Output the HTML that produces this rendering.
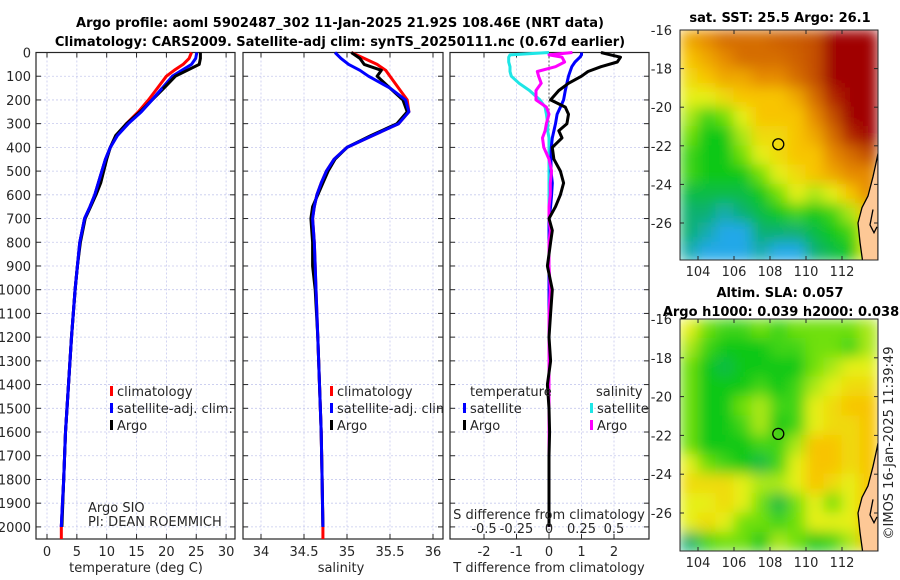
<!DOCTYPE html>
<html><head><meta charset="utf-8"><style>
body{margin:0;background:#fff}
svg{display:block;font-family:"DejaVu Sans","Liberation Sans",sans-serif}
.t{fill:#262626;font-size:13px}
.b{font-weight:bold;fill:#000}
</style></head><body>
<svg id="s" width="900" height="580" viewBox="0 0 900 580">
<defs>
<filter id="bl" x="-5%" y="-5%" width="110%" height="110%"><feGaussianBlur stdDeviation="7" edgeMode="duplicate"/></filter>
<clipPath id="c1"><rect x="680" y="30" width="198" height="230"/></clipPath>
<clipPath id="c2"><rect x="680" y="319" width="198" height="232"/></clipPath>
<clipPath id="cp2"><rect x="243" y="52" width="200" height="488"/></clipPath>
</defs>
<text x="340" y="27" text-anchor="middle" class="b" font-size="13">Argo profile: aoml 5902487_302 11-Jan-2025 21.92S 108.46E (NRT data)</text>
<text x="340" y="46" text-anchor="middle" class="b" font-size="13">Climatology: CARS2009. Satellite-adj clim: synTS_20250111.nc (0.67d earlier)</text>
<g id="g"></g>
</svg>
<script>
const depths=[0,25,50,75,100,150,200,250,300,350,400,450,500,550,600,650,700,800,900,1000,1200,1400,1600,1800,2000];
const climT=[24.2,23.8,22.8,21.3,20,18.5,17,15.3,13.3,11.7,10.6,9.8,9.2,8.6,8.0,7.2,6.3,5.5,5.1,4.7,4.1,3.6,3.1,2.8,2.4];
const satT=[25.1,24.9,24.2,22.6,21,19.3,17.6,15.8,13.6,11.8,10.6,9.8,9.2,8.6,8.0,7.2,6.3,5.5,5.1,4.7,4.1,3.6,3.1,2.8,2.4];
const argoT=[25.7,25.7,25.5,23.5,21.5,19.6,17.6,15.6,13.3,11.5,10.6,10,9.5,9,8.2,7.3,6.4,5.6,5.1,4.7,4.1,3.6,3.1,2.8,2.5];
const climS=[35.05,35.2,35.35,35.45,35.5,35.6,35.7,35.72,35.6,35.3,35.0,34.85,34.76,34.7,34.65,34.62,34.6,34.62,34.63,34.64,34.66,34.68,34.7,34.71,34.72];
const satS=[34.86,34.93,35.02,35.15,35.25,35.5,35.68,35.72,35.6,35.3,35.0,34.85,34.76,34.7,34.65,34.62,34.6,34.62,34.63,34.64,34.66,34.68,34.7,34.71,34.72];
const argoS=[35.05,35.15,35.2,35.4,35.35,35.5,35.65,35.7,35.58,35.28,35.0,34.86,34.78,34.72,34.66,34.6,34.58,34.6,34.6,34.63,34.66,34.68,34.7,34.71,34.72];
const dDepth=[0,10,20,40,60,80,100,130,160,200,230,260,300,330,360,400,450,500,550,600,650,700,750,800,900,1000,1100,1200,1300,1400,1500,1600,1700,1800,1900,2000];
const dArgoT=[1.6,1.9,2.2,2.1,1.6,1.2,1.0,0.6,0.3,0.05,0.5,0.6,0.55,0.3,0.4,0.1,0.15,0.35,0.45,0.35,0.2,0.0,0.1,0.05,-0.05,0.1,0.05,0.0,0.05,-0.05,0.0,0.02,0.0,0.0,0.0,0.0];
const dSatT=[1.0,1.0,0.95,0.8,0.7,0.65,0.6,0.55,0.5,0.45,0.35,0.25,0.2,0.15,0.1,0.07,0.06,0.06,0.1,0.08,0.05,0,0,0,0,0,0,0,0,0,0,0,0,0,0,0];
const dSatS=[0,-0.3,-0.31,-0.31,-0.3,-0.3,-0.29,-0.23,-0.15,-0.07,-0.03,-0.02,-0.01,-0.01,0,0,0,0,0,0,0,0,0,0,0,0,0,0,0,0,0,0,0,0,0,0];
const dArgoS=[0.18,0.0,0.1,0.12,0.05,-0.09,-0.08,-0.06,-0.1,-0.1,-0.02,0,-0.02,-0.03,-0.05,-0.04,0.0,0.02,0.01,0.01,0,0.0,0.01,0,0,0.01,0,0,0,0,0,0,0,0,0,0];
const depthTicks=[0,100,200,300,400,500,600,700,800,900,1000,1100,1200,1300,1400,1500,1600,1700,1800,1900,2000];
const tTicks=[0,5,10,15,20,25,30];
const sTicks=[34,34.5,35,35.5,36];
const dtTicks=[-2,-1,0,1,2];
const dsTicks=[-0.5,-0.25,0,0.25,0.5];
const lonTicks=[104,106,108,110,112];
const latTicks=[-16,-18,-20,-22,-24,-26];
const sstGrid=[
[7.5,8,8.5,8.5,8.5,8.7,8.8,9,10,10,10],
[7,7.5,8,8.5,8.5,8.5,8.7,9,10,10,10],
[6.5,7,7.5,7.5,8,8,8.5,9,10,10,10],
[6,6,6.5,7,7,7,7.5,8.5,9.5,10,10],
[5.5,4.5,5,6,7,7,7,8,9,10,10],
[5,4,4,5.5,6.5,6.5,7,7.5,8.5,9.5,10],
[4.5,4,4,5,6,6.5,7,7,8,8.5,9],
[4.5,4,4,4,5,6,6.5,7,7.5,8,8],
[3.5,3.5,3.5,3.5,4,5,6,5.5,6,7,8],
[3,3,2.5,3,3.5,4,4.5,4,4.5,5.5,7],
[3,2.5,2,2,3,3,3,3.5,4,4.5,6],
[2.5,2,2,2,2.5,2,2,3,3.5,4,6]];
const slaGrid=[
[6,5,4.5,4.5,5,4.5,5,5,5,5,5.5],
[5.5,4.5,4,4,4,4.5,4.5,5,5,4.5,5.5],
[5,4,3.5,4,4,4,4,5,5.5,6,6],
[5,4,4,4,4.5,4,4.5,5.5,6,6.5,6.5],
[5,4,4,5,5.5,4.5,4.5,6,6.5,7,7],
[5,4,4,4.5,5.5,4,4.5,6,6.5,6.5,7],
[5,4,4,4,4.5,4.5,5.5,7,7,6.5,7],
[6,5,4.5,4,3.5,4.5,6,7,7,6.5,7],
[6.5,6.5,6.5,6,5.5,5.5,6,7,6.5,6,7],
[6,6,6.5,6,5,3.5,5,6,5,6,7],
[6,6.5,6,5,5,4.5,5,6,6,6,7],
[3,4.5,5,5,4,5.5,5,4,4.5,5.5,7]];

const NS='http://www.w3.org/2000/svg';
const G=document.getElementById('g');
function mk(tag,at,par){const e=document.createElementNS(NS,tag);for(const k in at)e.setAttribute(k,at[k]);(par||G).appendChild(e);return e;}
function txt(x,y,s,cls,anchor,par){const e=mk('text',{x:x,y:y,'class':cls||'t','text-anchor':anchor||'middle'},par);e.textContent=s;return e;}
const yD=d=>52.5+d*0.2372;
const Y0=52.5,Y1=539;
const xT=t=>47+t*5.97, xS=s=>261+(s-34)*86, xDT=t=>549+t*32.5, xDS=s=>549+s*130;

function panel(name,x0,x1,xt,ticks,fmt,showY){
  const g=mk('g',{});
  
  
  depthTicks.forEach(d=>{const y=yD(d);mk('line',{x1:x0,x2:x1,y1:y,y2:y,stroke:'#c6c9ee','stroke-width':0.8,'stroke-dasharray':'2,2'},g);
    mk('line',{x1:x0,x2:x0+5,y1:y,y2:y,stroke:'#262626'},g);mk('line',{x1:x1-5,x2:x1,y1:y,y2:y,stroke:'#262626'},g);
    if(showY){const t=txt(x0-5,y+5,String(d),'t','end',g);}});
  ticks.forEach(v=>{const x=xt(v);mk('line',{x1:x,x2:x,y1:Y0,y2:Y1,stroke:'#c6c9ee','stroke-width':0.8,'stroke-dasharray':'2,2'},g);
    mk('line',{x1:x,x2:x,y1:Y1-5,y2:Y1,stroke:'#262626'},g);mk('line',{x1:x,x2:x,y1:Y0,y2:Y0+5,stroke:'#262626'},g);
    if(fmt){const t=txt(x,556,fmt(v),'t','middle',g);}});
  mk('rect',{x:x0,y:Y0,width:x1-x0,height:Y1-Y0,fill:'none',stroke:'#262626','stroke-width':1.2},g);
  return g;
}
function line(name,xs,ds,xf,col,w){const pts=xs.map((v,i)=>xf(v).toFixed(1)+','+yD(ds[i]).toFixed(1)).join(' ');
  const p=mk('polyline',{points:pts,fill:'none',stroke:col,'stroke-width':w||3,'stroke-linejoin':'round'});
  return p;}
function leg(x,y,col,label,name,par){const g=mk('g',{},par);
  mk('rect',{x:x,y:y-10,width:3,height:10,fill:col},g);txt(x+7,y,label,'t','start',g);}

panel('temperature-axes',36,235,xT,tTicks,v=>String(v),true);
line('temperature-climatology',climT,depths,xT,'#f00');
mk('line',{x1:xT(2.4),x2:xT(2.4),y1:yD(2000),y2:Y1,stroke:'#f00','stroke-width':3});
line('temperature-satellite-adj',satT,depths,xT,'#00f');
line('temperature-argo',argoT,depths,xT,'#000');
line('temperature-satellite-adj-deep',satT.slice(5),depths.slice(5),xT,'#00f');
leg(110,396,'#f00','climatology','legend-climatology');
leg(110,413,'#00f','satellite-adj. clim.','legend-satellite-adj');
leg(110,430,'#000','Argo','legend-argo');
txt(88,512,'Argo SIO','t','start').setAttribute('font-size','11');
txt(88,526,'PI: DEAN ROEMMICH','t','start').setAttribute('font-size','11');
txt(136,572,'temperature (deg C)');

panel('salinity-axes',243,443,xS,sTicks,v=>String(v),false);
line('salinity-climatology',climS,depths,xS,'#f00');
mk('line',{x1:xS(34.72),x2:xS(34.72),y1:yD(2000),y2:Y1,stroke:'#f00','stroke-width':3});
line('salinity-argo',argoS,depths,xS,'#000');
line('salinity-satellite-adj',satS,depths,xS,'#00f');
const lg2=mk('g',{'clip-path':'url(#cp2)'});
leg(330,396,'#f00','climatology','legend-climatology-s',lg2);
leg(330,413,'#00f','satellite-adj. clim.','legend-satellite-adj-s',lg2);
leg(330,430,'#000','Argo','legend-argo-s',lg2);
txt(341,572,'salinity');

panel('difference-axes',450,649,xDT,dtTicks,v=>String(v),false);
mk('line',{x1:549,x2:549,y1:Y0,y2:Y1,stroke:'#333','stroke-width':0.8,'stroke-dasharray':'2,2'});
line('s-diff-satellite',dSatS,dDepth,xDS,'#1ee6e6');
line('t-diff-satellite',dSatT,dDepth,xDT,'#00f');
line('s-diff-argo',dArgoS,dDepth,xDS,'#f0f');
line('t-diff-argo',dArgoT,dDepth,xDT,'#000');
txt(470,396,'temperature','t','start');txt(596,396,'salinity','t','start');
leg(463,413,'#00f','satellite','legend-t-satellite');
leg(463,430,'#000','Argo','legend-t-argo');
leg(590,413,'#1ee6e6','satellite','legend-s-satellite');
leg(590,430,'#f0f','Argo','legend-s-argo');
txt(549,519,'S difference from climatology');
dsTicks.forEach(v=>{const t=txt(xDS(v),533,String(v));});
txt(549,572,'T difference from climatology');

const cst=[[0,'#1e70f0'],[2,'#22a8e8'],[3,'#10b070'],[4,'#10c818'],[5,'#70e010'],[6,'#e6f018'],[7,'#f8c400'],[8,'#e68a00'],[9,'#c45000'],[10,'#a00000']];
function cmap(v){for(let i=1;i<cst.length;i++){if(v<=cst[i][0]){const a=cst[i-1],b=cst[i],f=(v-a[0])/(b[0]-a[0]);
  const c1=parseInt(a[1].slice(1),16),c2=parseInt(b[1].slice(1),16);const ch=s=>Math.round(((c1>>s)&255)*(1-f)+((c2>>s)&255)*f);
  return 'rgb('+ch(16)+','+ch(8)+','+ch(0)+')';}}return cst[cst.length-1][1];}
function map(name,grid,top,h,clip,titles){
  const bot=top+h, pxLon=198/11, pxLat=(top===30?19.3:19.4);
  const xL=l=>680+(l-103)*pxLon, yL=l=>top+(-16-l)*pxLat;
  const g=mk('g',{});
  const cg=mk('g',{'clip-path':'url(#'+clip+')'},g);
  const inner=mk('g',{filter:'url(#bl)'},cg);
  grid.forEach((row,r)=>row.forEach((v,c)=>{const cell=mk('rect',{x:xL(103+c)-0.5,y:yL(-16-r)-0.5,width:pxLon+1,height:pxLat+1,fill:cmap(v)},inner);
    }));
  const land=mk('path',{d:`M878,${yL(-22.4)} L876,${yL(-22.9)} L873,${yL(-23.6)} L868,${yL(-24.6)} L862,${yL(-25.2)} L858,${yL(-26)} L860,${yL(-27)} L864,${yL(-28.5)} L878,${yL(-28.5)} Z`,fill:'#fdc896',stroke:'#000','stroke-width':1.3},cg);
  
  mk('path',{d:`M873,${yL(-25.3)} L870,${yL(-26.1)} L874,${yL(-26.5)} L877,${yL(-26.2)}`,fill:'none',stroke:'#000','stroke-width':1.3},cg);
  mk('circle',{cx:xL(108.46),cy:yL(-21.92),r:5.5,fill:'none',stroke:'#000','stroke-width':1.3},g);
  mk('rect',{x:680,y:top,width:198,height:h,fill:'none',stroke:'#262626','stroke-width':1},g);
  lonTicks.forEach(l=>{const x=xL(l);mk('line',{x1:x,x2:x,y1:bot-4,y2:bot,stroke:'#262626'},g);mk('line',{x1:x,x2:x,y1:top,y2:top+4,stroke:'#262626'},g);
    const t=txt(x,bot+16,String(l),'t','middle',g);});
  latTicks.forEach(l=>{const y=yL(l);mk('line',{x1:680,x2:684,y1:y,y2:y,stroke:'#262626'},g);mk('line',{x1:874,x2:878,y1:y,y2:y,stroke:'#262626'},g);
    const t=txt(672,y+5,String(l),'t','end',g);});
  titles.forEach(tt=>{const t=txt(tt[0],tt[1],tt[2],'b','middle',g);t.setAttribute('font-size','13');});
}
map('sst-map',sstGrid,30,230,'c1',[[780,22,'sat. SST: 25.5 Argo: 26.1']]);
map('sla-map',slaGrid,319,232,'c2',[[780,297,'Altim. SLA: 0.057'],[781,316,'Argo h1000: 0.039 h2000: 0.038']]);
const cr=txt(0,0,'©IMOS 16-Jan-2025 11:39:49','t','middle');
cr.setAttribute('transform','translate(893,443) rotate(-90)');


</script>
</body></html>
